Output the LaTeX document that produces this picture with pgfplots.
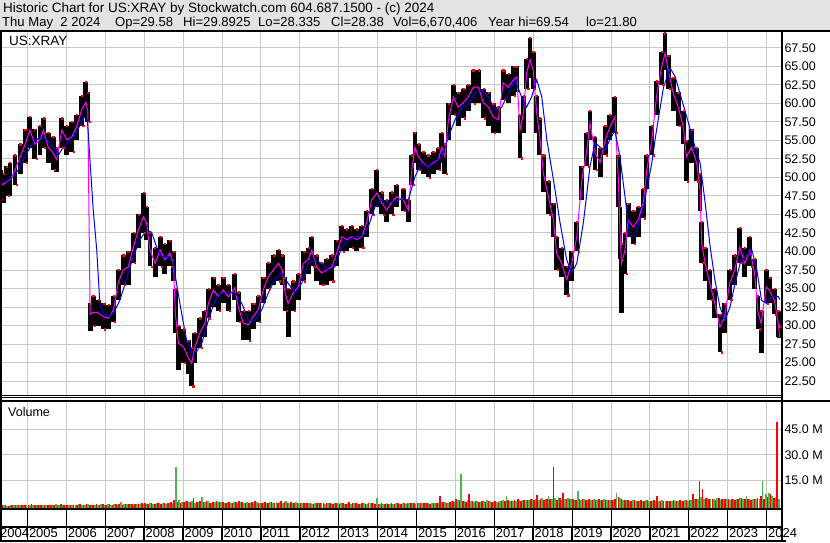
\documentclass[border=0pt]{standalone}
\usepackage{fontspec}
\setmainfont{Liberation Sans}
\usepackage{pgfplots}
\pgfplotsset{compat=1.18}
\usepackage{pgfplotstable}

\definecolor{hdr}{RGB}{227,227,227}
\definecolor{gridc}{RGB}{200,200,200}
\definecolor{volg}{RGB}{76,184,76}
\definecolor{mag}{RGB}{255,0,255}
\definecolor{mablue}{RGB}{0,0,255}

% price: x in years, close (20-day avg), low, high
\pgfplotstableread{
x c lo hi
2004.30 49.5 47.0 51.0
2004.38 49.0 46.5 50.5
2004.47 49.5 47.5 51.5
2004.55 49.7 47.5 52.0
2004.68 51.0 49.0 53.0
2004.81 52.8 50.5 54.5
2004.94 54.5 52.0 56.5
2005.06 56.4 54.0 58.2
2005.19 54.5 52.5 56.5
2005.32 55.1 53.0 57.0
2005.41 56.4 54.0 58.0
2005.53 54.1 52.0 56.0
2005.66 53.3 51.0 55.5
2005.75 52.4 50.7 54.0
2005.88 56.4 54.0 58.0
2006.01 55.1 53.0 57.0
2006.14 55.5 53.5 57.5
2006.26 56.8 55.0 58.5
2006.39 59.1 57.0 61.0
2006.50 60.2 58.0 62.9
2006.55 59.0 57.5 61.5
2006.61 31.5 29.2 33.0
2006.69 31.8 30.0 34.0
2006.82 31.7 30.0 33.5
2006.95 31.2 29.5 33.0
2007.08 31.0 29.5 32.8
2007.21 32.1 30.5 34.0
2007.33 35.7 33.5 37.5
2007.46 37.5 35.5 39.5
2007.59 37.9 35.5 40.0
2007.72 40.6 38.5 42.5
2007.85 42.9 40.5 45.0
2007.98 44.7 42.5 47.9
2008.06 43.9 41.5 46.0
2008.15 40.2 38.0 42.5
2008.28 38.4 36.5 40.5
2008.41 40.2 38.0 42.0
2008.53 38.9 37.0 41.0
2008.66 39.8 38.0 41.5
2008.75 38.4 36.0 40.0
2008.80 31.7 29.0 35.0
2008.88 27.6 24.0 30.0
2009.01 27.1 25.0 29.5
2009.13 25.7 23.5 28.0
2009.22 24.9 21.8 27.0
2009.30 27.0 25.0 29.0
2009.43 29.0 27.0 31.0
2009.56 30.3 28.5 32.0
2009.65 33.0 31.0 35.0
2009.78 34.8 32.5 36.5
2009.90 33.9 32.0 35.5
2010.03 34.8 33.0 36.5
2010.16 33.9 32.0 35.5
2010.33 35.1 33.5 37.0
2010.42 32.5 30.5 34.5
2010.55 30.3 28.0 32.0
2010.68 30.1 28.0 32.0
2010.80 31.2 29.5 33.0
2010.93 32.1 30.5 34.0
2011.06 34.8 33.0 36.5
2011.19 36.6 35.0 38.5
2011.32 37.5 35.5 39.5
2011.45 38.4 36.0 40.2
2011.55 37.5 35.5 39.5
2011.62 34.4 32.0 36.5
2011.70 33.0 28.5 35.0
2011.83 34.4 32.0 36.0
2011.96 35.2 33.5 37.0
2012.09 38.4 36.0 40.0
2012.22 38.9 37.0 40.5
2012.31 40.2 38.0 42.0
2012.43 37.9 36.0 39.5
2012.56 37.1 35.5 38.5
2012.69 37.5 35.5 39.0
2012.82 37.9 36.0 39.5
2012.95 39.8 38.0 41.5
2013.08 42.0 40.0 43.5
2013.21 41.6 40.0 43.0
2013.33 42.0 40.5 43.5
2013.46 41.6 40.0 43.0
2013.59 42.0 40.5 43.5
2013.72 43.9 42.0 45.5
2013.85 47.0 45.0 48.5
2013.98 47.9 46.0 51.0
2014.11 46.6 45.0 48.0
2014.23 45.6 44.0 47.0
2014.36 46.6 45.0 48.0
2014.49 47.4 46.0 49.0
2014.66 47.0 45.5 48.5
2014.79 45.6 44.0 47.0
2014.88 51.0 49.0 53.0
2014.96 54.1 52.0 56.1
2015.05 52.8 51.0 54.5
2015.17 52.0 50.5 53.5
2015.30 51.4 50.0 53.0
2015.43 52.0 50.5 53.5
2015.56 52.4 51.0 54.0
2015.65 54.1 52.0 56.0
2015.73 52.8 50.5 54.5
2015.82 57.8 55.0 60.0
2015.95 60.9 58.5 62.5
2016.07 59.5 57.0 61.5
2016.20 60.1 58.0 62.0
2016.33 60.9 59.0 62.5
2016.46 62.2 60.0 64.5
2016.59 62.2 60.0 64.5
2016.72 60.1 58.0 62.0
2016.85 59.5 57.0 61.5
2016.97 58.2 56.0 60.0
2017.10 57.8 56.0 59.5
2017.23 62.8 60.5 64.5
2017.36 62.2 60.0 64.0
2017.49 63.2 61.0 65.0
2017.58 63.6 61.5 65.0
2017.66 56.4 52.6 58.5
2017.75 58.7 56.0 61.0
2017.83 64.1 62.0 66.0
2017.92 65.9 63.5 68.9
2018.00 64.5 62.0 67.0
2018.09 58.7 56.0 61.0
2018.17 55.5 53.0 58.0
2018.26 50.6 48.0 53.0
2018.39 47.4 45.0 49.5
2018.52 44.3 42.0 46.5
2018.60 39.8 37.5 42.0
2018.73 38.4 36.5 40.5
2018.86 36.2 34.1 38.0
2018.99 38.4 36.0 40.0
2019.12 42.0 40.0 44.0
2019.25 49.7 47.0 51.5
2019.38 53.7 51.5 56.0
2019.46 57.4 55.0 59.0
2019.59 53.3 51.0 55.5
2019.72 52.0 50.0 54.0
2019.85 55.1 53.0 57.0
2019.97 56.8 55.0 58.5
2020.10 58.2 56.0 60.9
2020.19 49.7 46.0 53.0
2020.23 42.9 39.0 46.0
2020.27 38.4 31.7 41.0
2020.36 40.2 37.0 42.5
2020.44 44.3 42.0 46.5
2020.57 43.3 41.0 45.5
2020.70 44.3 42.0 46.0
2020.83 46.6 44.5 48.5
2020.92 51.0 48.5 53.0
2021.05 55.1 53.0 57.0
2021.17 60.9 58.5 63.0
2021.30 64.9 62.5 67.0
2021.39 66.8 64.5 69.5
2021.47 64.5 62.0 66.5
2021.60 61.4 59.0 63.5
2021.73 59.5 57.0 61.5
2021.86 56.8 54.5 59.0
2021.94 52.8 49.5 55.0
2022.07 54.1 52.0 56.5
2022.20 52.0 49.5 54.0
2022.29 48.3 45.5 50.5
2022.33 41.1 38.5 44.0
2022.42 38.4 36.0 40.5
2022.54 35.7 33.5 37.5
2022.67 33.0 31.0 35.0
2022.80 29.8 26.4 31.5
2022.92 31.2 29.0 33.0
2023.05 35.7 33.5 37.5
2023.18 37.5 35.5 39.5
2023.31 40.6 38.5 43.2
2023.44 38.4 36.5 40.5
2023.57 40.2 38.0 42.0
2023.69 37.1 35.0 39.0
2023.78 31.7 29.5 34.0
2023.86 30.3 26.3 32.0
2023.99 35.2 33.0 37.5
2024.07 34.8 33.0 36.5
2024.20 33.4 31.5 35.0
2024.30 30.3 28.5 32.0
2024.34 28.4 28.3 29.9
}\price

% slow moving average (blue)
\pgfplotstableread{
x v
2004.38 49.3
2004.64 50.1
2004.81 51.4
2004.98 53.3
2005.15 54.7
2005.32 55.5
2005.49 55.1
2005.66 54.1
2005.79 53.0
2005.92 54.1
2006.09 55.1
2006.26 56.0
2006.44 58.2
2006.54 57.8
2006.61 52.0
2006.69 45.6
2006.78 40.2
2006.86 33.0
2006.95 31.7
2007.08 31.2
2007.21 31.7
2007.34 33.0
2007.46 34.8
2007.59 37.1
2007.72 39.3
2007.89 41.6
2008.06 42.9
2008.19 42.6
2008.32 40.6
2008.45 39.3
2008.62 39.3
2008.75 38.4
2008.83 35.7
2008.96 31.7
2009.09 28.0
2009.22 26.3
2009.35 26.5
2009.48 27.6
2009.65 30.7
2009.82 33.4
2009.99 34.4
2010.16 34.4
2010.33 34.4
2010.51 33.0
2010.68 30.7
2010.85 30.7
2011.02 32.1
2011.19 34.4
2011.36 36.2
2011.53 37.1
2011.70 35.7
2011.88 34.4
2012.05 35.7
2012.22 38.4
2012.39 38.9
2012.56 38.4
2012.73 37.5
2012.90 37.9
2013.08 40.6
2013.25 41.6
2013.42 42.0
2013.59 42.0
2013.76 43.3
2013.93 46.0
2014.10 47.0
2014.28 46.6
2014.58 47.0
2014.79 47.0
2014.96 50.1
2015.13 52.0
2015.30 51.4
2015.48 52.0
2015.65 52.8
2015.82 55.5
2015.99 57.8
2016.16 59.5
2016.33 59.8
2016.50 61.4
2016.68 61.8
2016.85 60.9
2017.02 59.1
2017.19 59.5
2017.36 61.4
2017.53 63.2
2017.70 60.9
2017.83 59.5
2017.96 60.9
2018.09 63.2
2018.22 60.9
2018.35 55.1
2018.52 49.7
2018.69 43.9
2018.86 38.9
2018.99 37.1
2019.12 38.4
2019.29 43.9
2019.46 51.5
2019.59 54.7
2019.72 54.1
2019.85 53.7
2019.97 55.1
2020.10 56.4
2020.23 52.8
2020.36 47.4
2020.49 42.0
2020.62 42.3
2020.75 44.3
2020.87 47.0
2021.05 52.0
2021.17 56.4
2021.35 62.2
2021.52 64.8
2021.65 63.6
2021.82 60.5
2021.99 57.4
2022.16 54.1
2022.29 52.0
2022.42 46.6
2022.55 40.6
2022.67 36.2
2022.80 32.5
2022.93 30.7
2023.06 32.5
2023.19 35.7
2023.32 38.4
2023.45 39.3
2023.62 40.2
2023.75 37.5
2023.87 33.4
2024.00 33.0
2024.13 33.9
2024.30 33.9
2024.34 33.5
}\slow

% volume in millions, m = month number counted from Jan 2004 = 1
\pgfplotstableread[row sep=\\]{
m r g\\
5 0.6 0.7\\ 6 0.8 0.5\\ 7 0.5 0.9\\ 8 0.7 0.6\\ 9 0.9 0.8\\ 10 0.6 1.0\\ 11 0.8 0.7\\ 12 1.1 0.6\\
13 0.8 0.9\\ 14 1.2 0.7\\ 15 0.7 1.0\\ 16 0.9 0.8\\ 17 0.6 1.1\\ 18 1.0 0.6\\ 19 0.8 0.9\\ 20 1.1 0.7\\ 21 0.7 1.5\\ 22 0.9 0.8\\ 23 1.3 1.0\\ 24 0.8 0.7\\
25 1.0 0.8\\ 26 0.8 1.0\\ 27 1.1 0.9\\ 28 0.9 1.3\\ 29 1.2 0.8\\ 30 1.0 1.1\\ 31 1.4 1.2\\ 32 1.1 0.9\\ 33 0.9 1.1\\ 34 1.2 1.0\\ 35 1.0 1.4\\ 36 1.3 0.9\\
37 1.1 1.2\\ 38 1.3 1.0\\ 39 1.0 1.4\\ 40 1.5 1.1\\ 41 1.2 2.5\\ 42 1.1 1.3\\ 43 1.6 1.2\\ 44 1.3 1.5\\ 45 1.4 1.1\\ 46 1.2 1.6\\ 47 1.5 1.3\\ 48 1.7 1.2\\
49 1.8 1.4\\ 50 1.5 1.8\\ 51 1.7 1.5\\ 52 1.4 2.0\\ 53 1.9 1.7\\ 54 1.6 2.1\\ 55 2.0 1.6\\ 56 1.8 2.2\\ 57 2.4 1.9\\ 58 3.5 23.0\\ 59 2.8 4.0\\ 60 2.2 2.5\\
61 2.6 3.2\\ 62 3.0 2.5\\ 63 2.4 2.9\\ 64 5.0 2.2\\ 65 2.8 2.6\\ 66 3.2 5.5\\ 67 2.5 2.4\\ 68 2.9 3.0\\ 69 2.2 2.1\\ 70 2.7 2.8\\ 71 3.1 2.3\\ 72 2.4 2.6\\
73 2.3 2.0\\ 74 2.0 2.4\\ 75 2.6 1.8\\ 76 2.1 2.7\\ 77 2.8 2.1\\ 78 3.0 2.5\\ 79 2.4 1.9\\ 80 2.2 2.3\\ 81 1.9 2.0\\ 82 2.5 2.2\\ 83 3.2 2.6\\ 84 2.0 1.8\\
85 2.1 1.9\\ 86 2.4 2.2\\ 87 1.9 2.8\\ 88 2.6 2.0\\ 89 2.2 2.4\\ 90 2.0 2.6\\ 91 3.0 2.2\\ 92 2.5 3.3\\ 93 2.1 1.9\\ 94 2.3 2.1\\ 95 1.8 2.4\\ 96 2.0 1.7\\
97 1.8 1.7\\ 98 2.1 1.9\\ 99 1.7 2.1\\ 100 2.0 1.6\\ 101 1.6 1.8\\ 102 1.9 2.0\\ 103 2.2 1.7\\ 104 1.8 1.5\\ 105 1.7 1.9\\ 106 2.0 1.6\\ 107 1.6 1.8\\ 108 1.9 1.7\\
109 1.6 1.7\\ 110 1.8 1.5\\ 111 1.5 1.8\\ 112 2.4 1.6\\ 113 1.7 1.9\\ 114 1.9 1.7\\ 115 1.6 1.5\\ 116 1.8 1.8\\ 117 1.5 1.6\\ 118 1.7 1.9\\ 119 2.0 1.7\\ 120 1.6 5.0\\
121 1.5 1.6\\ 122 1.7 1.4\\ 123 1.4 1.7\\ 124 1.6 1.5\\ 125 1.8 1.6\\ 126 1.5 1.8\\ 127 1.7 1.5\\ 128 1.6 1.7\\ 129 1.9 1.6\\ 130 2.1 2.0\\ 131 1.7 1.8\\ 132 1.8 1.6\\
133 1.9 1.8\\ 134 1.7 2.0\\ 135 2.0 1.7\\ 136 1.8 1.9\\ 137 1.6 2.1\\ 138 1.9 1.8\\ 139 2.2 2.0\\ 140 6.0 2.3\\ 141 2.5 2.6\\ 142 2.0 2.2\\ 143 2.8 2.9\\ 144 3.0 2.7\\
145 4.5 3.5\\ 146 3.5 19.0\\ 147 3.0 2.9\\ 148 2.8 3.5\\ 149 7.0 3.0\\ 150 3.2 2.8\\ 151 2.9 3.3\\ 152 2.6 2.7\\ 153 3.0 3.1\\ 154 2.7 3.6\\ 155 3.1 2.9\\ 156 2.8 2.6\\
157 3.0 2.8\\ 158 2.8 3.1\\ 159 3.4 3.6\\ 160 2.9 6.0\\ 161 3.5 3.0\\ 162 3.1 3.4\\ 163 3.8 3.2\\ 164 4.5 3.7\\ 165 3.3 4.0\\ 166 3.6 3.5\\ 167 3.9 3.8\\ 168 4.2 4.4\\
169 4.0 4.2\\ 170 6.5 3.9\\ 171 4.5 5.0\\ 172 3.8 4.4\\ 173 4.2 6.0\\ 174 4.6 4.1\\ 175 23.0 4.7\\ 176 3.9 5.5\\ 177 4.8 4.0\\ 178 8.0 4.3\\ 179 4.3 4.8\\ 180 4.5 4.1\\
181 4.3 4.0\\ 182 3.9 9.0\\ 183 4.6 3.8\\ 184 4.1 4.5\\ 185 3.8 4.0\\ 186 4.4 3.7\\ 187 4.0 4.3\\ 188 3.7 3.9\\ 189 4.2 3.5\\ 190 3.9 4.1\\ 191 3.6 3.8\\ 192 4.0 3.6\\
193 3.8 3.5\\ 194 4.5 8.0\\ 195 5.5 4.8\\ 196 4.2 4.0\\ 197 3.6 3.7\\ 198 3.9 3.3\\ 199 3.4 3.6\\ 200 3.7 3.1\\ 201 3.2 3.4\\ 202 3.5 3.0\\ 203 3.3 3.5\\ 204 3.6 3.2\\
205 3.2 3.0\\ 206 3.6 3.4\\ 207 6.0 3.2\\ 208 3.4 3.6\\ 209 3.0 3.1\\ 210 3.3 2.9\\ 211 3.1 3.3\\ 212 3.5 3.0\\ 213 3.2 3.4\\ 214 3.8 3.1\\ 215 3.4 3.5\\ 216 3.6 3.3\\
217 4.0 3.8\\ 218 7.0 4.2\\ 219 4.5 4.6\\ 220 15.0 5.5\\ 221 10.0 4.4\\ 222 5.0 4.9\\ 223 4.2 4.1\\ 224 4.6 4.5\\ 225 4.0 4.7\\ 226 4.8 4.0\\ 227 4.3 4.6\\ 228 4.5 4.2\\
229 4.2 4.0\\ 230 4.6 4.5\\ 231 4.0 4.2\\ 232 4.4 4.7\\ 233 4.8 4.1\\ 234 4.1 6.0\\ 235 4.5 4.3\\ 236 3.9 4.6\\ 237 4.3 4.4\\ 238 4.7 4.1\\ 239 6.0 15.0\\ 240 4.4 7.0\\
241 5.5 8.0\\ 242 7.0 6.0\\ 243 5.0 5.5\\ 244 49.0 4.5\\
}\vol

\pgfplotsset{
  panel/.style={
    scale only axis, width=782pt,
    axis line style={draw=none},
    major tick length=0pt,
    grid=major,
    major grid style={gridc, line width=1pt},
    xticklabels={},
    yticklabel pos=right,
    tick label style={font=\fontsize{12.5}{14}\selectfont, black},
    yticklabel style={anchor=west, xshift=-1pt},
  },
  % invisible point, visible vertical bar
  hidemark/.style={only marks, mark=*, mark size=0pt, mark options={opacity=0}, forget plot},
}

\begin{document}
\begin{tikzpicture}
\useasboundingbox (0pt,0pt) rectangle (830pt,543pt);
\fill[white] (0pt,0pt) rectangle (830pt,543pt);
\fill[hdr] (0pt,512pt) rectangle (830pt,543pt);

\node[anchor=base west, inner sep=0pt, font=\fontsize{13.5}{15}\selectfont] at (3pt,530pt) {Historic Chart for US:XRAY by Stockwatch.com 604.687.1500 - (c) 2024};
\begin{scope}[every node/.style={anchor=base west, inner sep=0pt, font=\fontsize{13.1}{15}\selectfont}]
\node at (2pt,516pt) {Thu May\ \ 2 2024};
\node at (115pt,516pt) {Op=29.58};
\node at (183pt,516pt) {Hi=29.8925};
\node at (258pt,516pt) {Lo=28.335};
\node at (331pt,516pt) {Cl=28.38};
\node at (393pt,516pt) {Vol=6,670,406};
\node at (488pt,516pt) {Year hi=69.54};
\node at (586pt,516pt) {lo=21.80};
\end{scope}

% price panel: top edge at 511pt, 365pt high
\begin{axis}[panel,
  at={(0pt,511pt)}, anchor=north west, height=365pt,
  xmin=2004.293, xmax=2024.396,
  ymin=20.34, ymax=69.66,
  xtick={2005,2006,...,2024},
  ytick={22.5,25,...,67.5},
  yticklabel style={/pgf/number format/.cd, fixed, fixed zerofill, precision=2, assume math mode=true},
]
% high-low bars, three strokes per reading
\addplot[hidemark, error bars/.cd, y dir=both, y explicit, error mark=none,
  error bar style={black, line width=1.7pt}]
  table[x expr=\thisrow{x}-0.04, y=c, y error plus expr=\thisrow{hi}-\thisrow{c}, y error minus expr=\thisrow{c}-\thisrow{lo}] {\price};
\addplot[hidemark, error bars/.cd, y dir=both, y explicit, error mark=none,
  error bar style={black, line width=1.7pt}]
  table[x=x, y=c, y error plus expr=\thisrow{hi}-\thisrow{c}, y error minus expr=\thisrow{c}-\thisrow{lo}] {\price};
\addplot[hidemark, error bars/.cd, y dir=both, y explicit, error mark=none,
  error bar style={black, line width=1.7pt}]
  table[x expr=\thisrow{x}+0.04, y=c, y error plus expr=\thisrow{hi}-\thisrow{c}, y error minus expr=\thisrow{c}-\thisrow{lo}] {\price};
\addplot[only marks, mark=square*, mark size=0.6pt, red] table[x=x, y=hi] {\price};
\addplot[only marks, mark=square*, mark size=0.6pt, red, each nth point=2] table[x expr=\thisrow{x}+0.04, y=lo] {\price};
\addplot[mag, line width=1pt] table[x=x, y=c] {\price};
\addplot[mablue, line width=1pt] table[x=x, y=v] {\slow};
\end{axis}

% volume panel: top edge at 142pt, 109pt high
\begin{axis}[panel,
  at={(0pt,142pt)}, anchor=north west, height=109pt,
  xmin=3.516, xmax=244.75,
  ymin=-2.1, ymax=61.5,
  xtick={12,24,...,240},
  ytick={15,30,45},
  yticklabels={15.0 M,30.0 M,45.0 M},
]
\addplot[hidemark, error bars/.cd, y dir=minus, y explicit, error mark=none,
  error bar style={red, line width=1.6pt}]
  table[x expr=\thisrow{m}-0.75, y=r, y error minus expr=\thisrow{r}+2.1] {\vol};
\addplot[hidemark, error bars/.cd, y dir=minus, y explicit, error mark=none,
  error bar style={volg, line width=1.6pt}]
  table[x expr=\thisrow{m}-0.25, y=g, y error minus expr=\thisrow{g}+2.1] {\vol};
\end{axis}

\node[anchor=base west, inner sep=0pt, font=\fontsize{13.5}{15}\selectfont] at (9pt,497.5pt) {US:XRAY};
\node[anchor=base west, inner sep=0pt, font=\fontsize{12.5}{14}\selectfont] at (8pt,126pt) {Volume};

% frame
\draw[line width=2pt] (0pt,512pt) -- (830pt,512pt);
\draw[line width=2pt] (1pt,2pt) -- (1pt,512pt);
\draw[line width=2pt] (782pt,2pt) -- (782pt,512pt);
\draw[line width=1pt] (0pt,147.3pt) -- (782pt,147.3pt);
\draw[line width=1pt] (0pt,145.3pt) -- (782pt,145.3pt);
\draw[line width=2pt] (0pt,142pt) -- (830pt,142pt);
\draw[line width=2pt] (0pt,33.5pt) -- (782pt,33.5pt);
\draw[line width=2pt] (0pt,16pt) -- (782pt,16pt);
\draw[line width=2pt] (0pt,2pt) -- (786pt,2pt);
\foreach \k in {0,...,19} {
  \draw[line width=1pt] ({27.5pt+38.9pt*\k},16pt) -- ({27.5pt+38.9pt*\k},33pt);
  \draw[line width=1.5pt] ({27.5pt+38.9pt*\k},2pt) -- ({27.5pt+38.9pt*\k},16pt);
}
% first year label sits in the clipped first box
\node[anchor=base west, inner sep=0pt, font=\fontsize{13}{15}\selectfont] at (0pt,5pt) {2004};
\foreach \yr [count=\k from 0] in {2005,2006,...,2024} {
  \node[anchor=base west, inner sep=0pt, font=\fontsize{13}{15}\selectfont] at ({28.8pt+38.9pt*\k},5pt) {\yr};
}
\end{tikzpicture}
\end{document}
